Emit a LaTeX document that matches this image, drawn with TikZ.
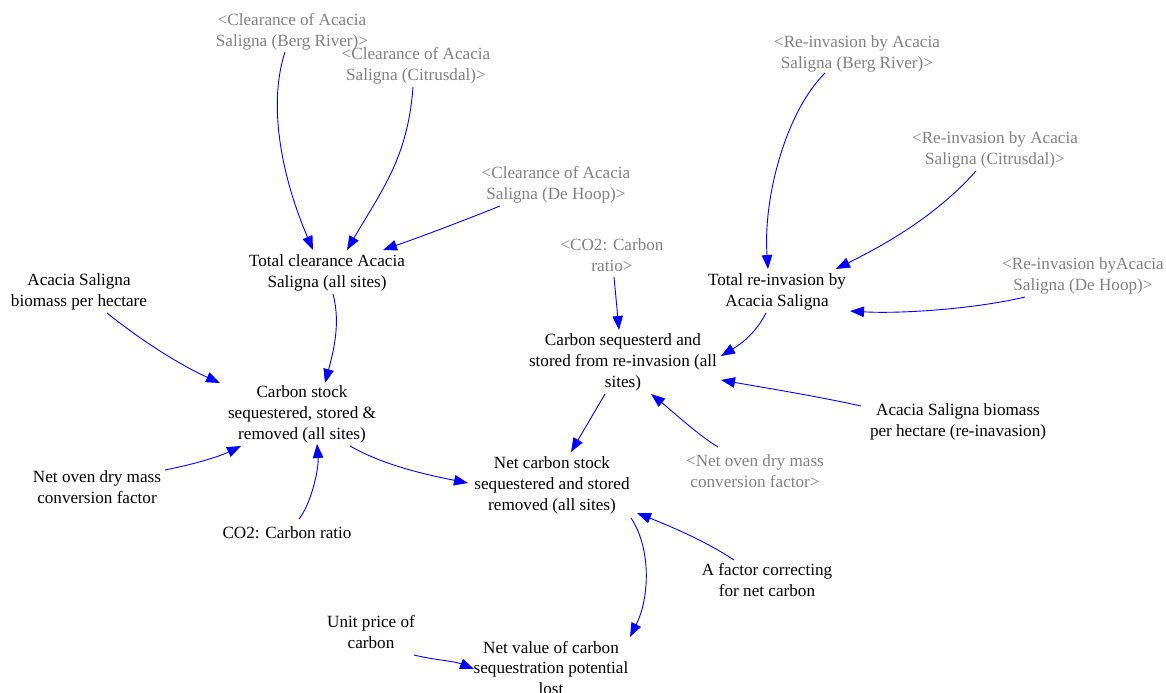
\documentclass[tikz,border=0pt]{standalone}
\usepackage{fontspec}
\setmainfont{Liberation Serif}
\usetikzlibrary{arrows.meta}

\definecolor{linkblue}{RGB}{0,0,255}
\definecolor{shadowgray}{RGB}{128,128,128}

\begin{document}
\begin{tikzpicture}[x=1bp,y=-1bp,
  var/.style={align=center,inner sep=0pt,font=\fontsize{17.2}{21}\selectfont,text=black},
  ghost/.style={var,text=shadowgray},
  link/.style={draw=linkblue,line width=0.9bp,-{Triangle[length=14bp,width=10.5bp]},fill=none}]
\useasboundingbox (0,0) rectangle (1166,693);

% shadow variables (grey, in angle brackets)
\node[ghost] (clBerg) at (292,32) {<Clearance of Acacia\\Saligna (Berg River)>};
\node[ghost] (clCit) at (416,66) {<Clearance of Acacia\\Saligna (Citrusdal)>};
\node[ghost] (clDH) at (556,185) {<Clearance of Acacia\\Saligna (De Hoop)>};
\node[ghost] (reBerg) at (857,54) {<Re-invasion by Acacia\\Saligna (Berg River)>};
\node[ghost] (reCit) at (995,150) {<Re-invasion by Acacia\\Saligna (Citrusdal)>};
\node[ghost] (reDH) at (1083,276) {<Re-invasion byAcacia\\Saligna (De Hoop)>};
\node[ghost] (co2ref) at (612,255) {<CO2: Carbon\\ratio>};
\node[ghost] (netOvenRef) at (755,471) {<Net oven dry mass\\conversion factor>};

% model variables
\node[var] (totClear) at (327,273) {Total clearance Acacia\\Saligna (all sites)};
\node[var] (totRe) at (777,292) {Total re-invasion by\\Acacia Saligna};
\node[var] (biomass) at (79,292) {Acacia Saligna\\biomass per hectare};
\node[var] (carbStock) at (302,414) {Carbon stock\\sequestered, stored \&\\removed (all sites)};
\node[var] (carbSeq) at (623,362) {Carbon sequesterd and\\stored from re-invasion (all\\sites)};
\node[var] (biomassRe) at (958,422) {Acacia Saligna biomass\\per hectare (re-inavasion)};
\node[var] (netOven) at (97,487) {Net oven dry mass\\conversion factor};
\node[var] (co2) at (287,533) {CO2: Carbon ratio};
\node[var] (netStock) at (552,485) {Net carbon stock\\sequestered and stored\\removed (all sites)};
\node[var] (factor) at (767,580) {A factor correcting\\for net carbon};
\node[var] (price) at (371,632) {Unit price of\\carbon};
\node[var] (netValue) at (551,668) {Net value of carbon\\sequestration potential\\lost};

% causal links
\draw[link] ([shift={(-7,20)}]clBerg.center) .. controls +(-18,55) and +(-30,-70) .. ([shift={(-14,-23)}]totClear.center);
\draw[link] ([shift={(-3,21)}]clCit.center) .. controls +(-5,70) and +(35,-60) .. ([shift={(20,-23)}]totClear.center);
\draw[link] ([shift={(-56,21)}]clDH.center) .. controls +(-40,16) and +(40,-14) .. ([shift={(56,-23)}]totClear.center);
\draw[link] ([shift={(6,21)}]totClear.center) .. controls +(8,30) and +(8,-30) .. ([shift={(23,-31)}]carbStock.center);
\draw[link] ([shift={(28,21)}]biomass.center) .. controls +(35,28) and +(-40,-18) .. ([shift={(-82,-31)}]carbStock.center);
\draw[link] ([shift={(68,-17)}]netOven.center) .. controls +(25,-5) and +(-25,12) .. ([shift={(-61,32)}]carbStock.center);
\draw[link] ([shift={(12,-14)}]co2.center) .. controls +(12,-15) and +(2,25) .. ([shift={(15,30)}]carbStock.center);
\draw[link] ([shift={(48,32)}]carbStock.center) .. controls +(35,20) and +(-40,-8) .. ([shift={(-84,-2)}]netStock.center);
\draw[link] ([shift={(2,22)}]co2ref.center) -- ([shift={(-4,-32)}]carbSeq.center);
\draw[link] ([shift={(-11,21)}]totRe.center) .. controls +(-10,20) and +(20,-12) .. ([shift={(98,-6)}]carbSeq.center);
\draw[link] ([shift={(-97,-16)}]biomassRe.center) .. controls +(-45,-10) and +(45,8) .. ([shift={(98,18)}]carbSeq.center);
\draw[link] ([shift={(-37,-24)}]netOvenRef.center) .. controls +(-20,-12) and +(20,16) .. ([shift={(28,32)}]carbSeq.center);
\draw[link] ([shift={(-18,32)}]carbSeq.center) -- ([shift={(19,-33)}]netStock.center);
\draw[link] ([shift={(-33,-20)}]factor.center) .. controls +(-30,-20) and +(30,12) .. ([shift={(85,28)}]netStock.center);
\draw[link] ([shift={(79,33)}]netStock.center) .. controls +(20,30) and +(20,-40) .. ([shift={(79,-31)}]netValue.center);
\draw[link] ([shift={(43,23)}]price.center) .. controls +(20,5) and +(-20,-8) .. ([shift={(-77,1)}]netValue.center);
\draw[link] ([shift={(-32,19)}]reBerg.center) .. controls +(-40,40) and +(-5,-70) .. ([shift={(-9,-23)}]totRe.center);
\draw[link] ([shift={(-19,21)}]reCit.center) .. controls +(-40,45) and +(50,-25) .. ([shift={(59,-23)}]totRe.center);
\draw[link] ([shift={(-58,21)}]reDH.center) .. controls +(-50,12) and +(50,3) .. ([shift={(73,19)}]totRe.center);
\end{tikzpicture}
\end{document}
